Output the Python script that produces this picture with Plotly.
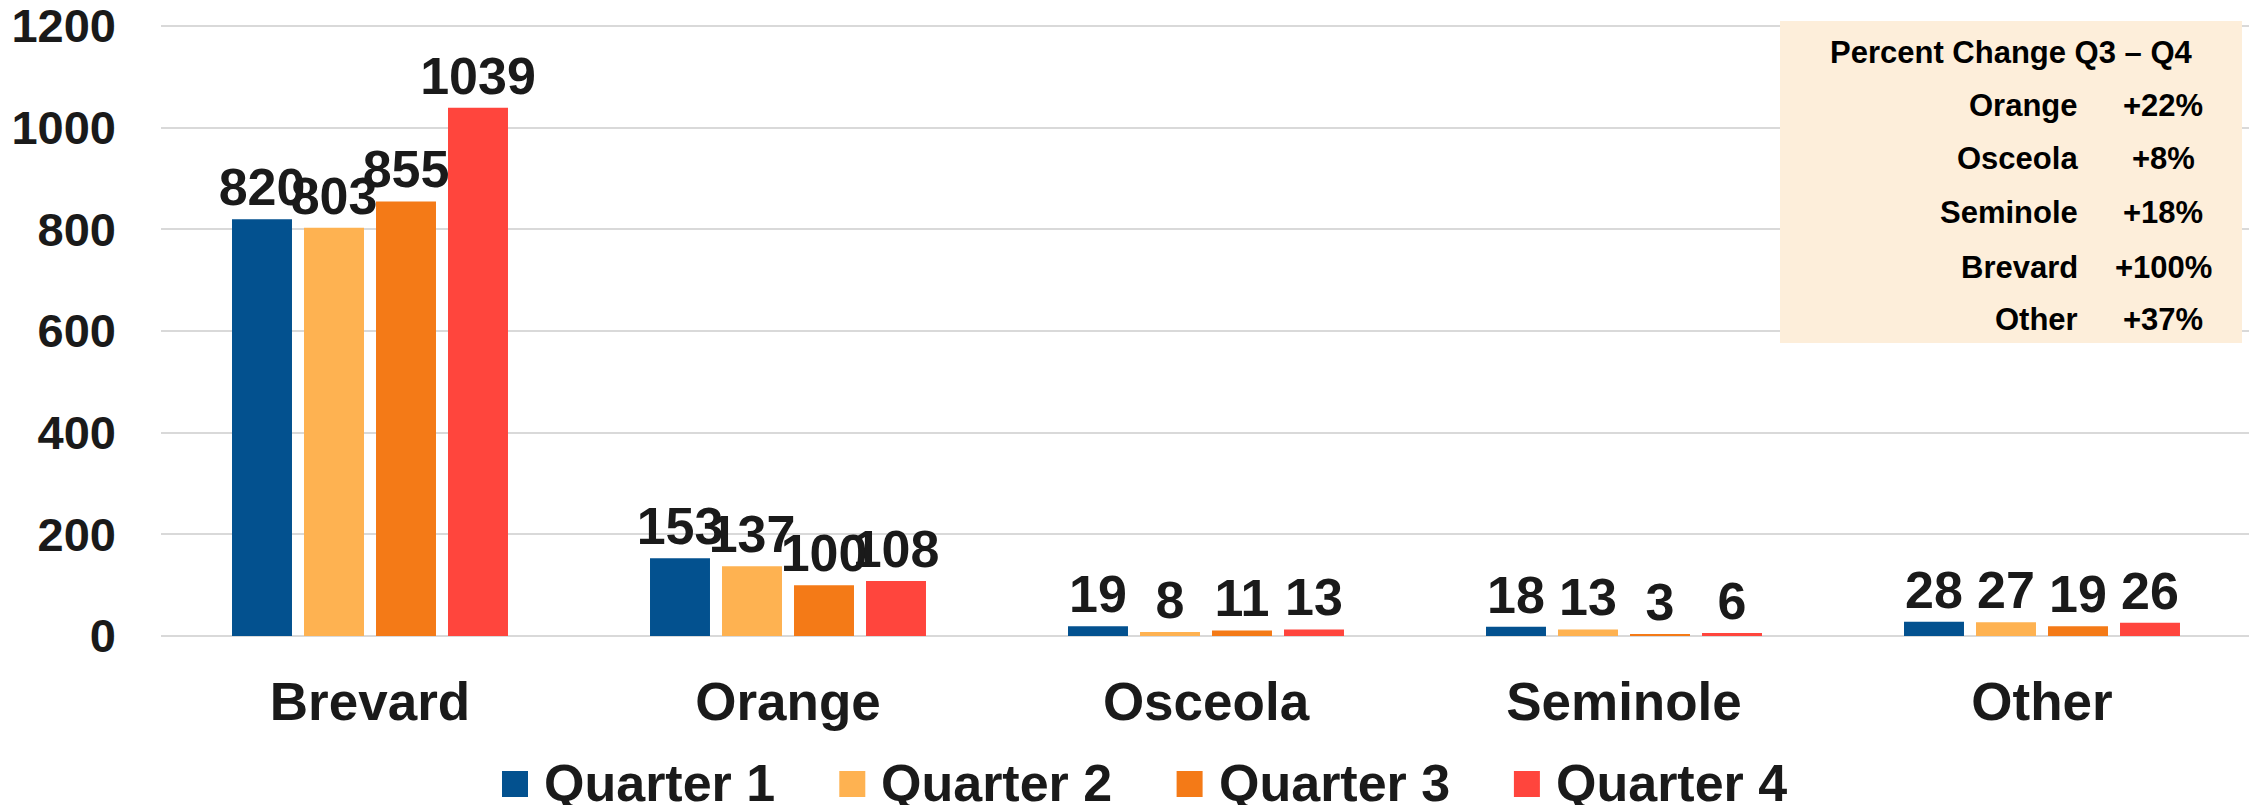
import plotly.graph_objects as go

counties = ["Brevard", "Orange", "Osceola", "Seminole", "Other"]
quarters = ["Quarter 1", "Quarter 2", "Quarter 3", "Quarter 4"]
q1 = [820, 153, 19, 18, 28]
q2 = [803, 137, 8, 13, 27]
q3 = [855, 100, 11, 3, 19]
q4 = [1039, 108, 13, 6, 26]
colors = ["#03518F", "#FEB251", "#F47A17", "#FF453D"]

table_title = "Percent Change Q3 – Q4"
table_counties = ["Orange", "Osceola", "Seminole", "Brevard", "Other"]
table_changes = ["+22%", "+8%", "+18%", "+100%", "+37%"]

FONT = "Liberation Sans, Arial, sans-serif"
TXT = "#1a1a1a"

# the page body has a default 8px margin; compensate so absolute positions match
OFF = 8
W, H = 2257 - OFF, 805 - OFF
PLOT_L, PLOT_R, PLOT_T, PLOT_B = 161, 2251, 25, 636   # absolute page pixels
ML = PLOT_L - OFF
MR = W - (PLOT_R - OFF)
MT = PLOT_T - OFF
MB = H - (PLOT_B - OFF)
PW, PH = PLOT_R - PLOT_L, PLOT_B - PLOT_T

def px_x(x):
    return (x - PLOT_L) / PW

def px_y(y):
    return (PLOT_B - y) / PH

fig = go.Figure()
for name, vals, col in zip(quarters, [q1, q2, q3, q4], colors):
    fig.add_trace(go.Bar(
        x=counties, y=vals, name=name, marker=dict(color=col, line=dict(width=0)),
        text=vals, texttemplate="%{y}", textposition="outside",
        constraintext="none", cliponaxis=False, showlegend=False,
        textfont=dict(family=FONT, size=52, color=TXT, weight="bold"),
    ))

shapes = []
ann = []

# Table box
shapes.append(dict(type="rect", xref="paper", yref="paper",
                   x0=px_x(1780), x1=px_x(2242), y0=px_y(343), y1=px_y(21),
                   fillcolor="#FDEEDA", line=dict(width=0), layer="above"))
ann.append(dict(xref="paper", yref="paper", x=px_x(2011), y=px_y(52),
                text=table_title, showarrow=False, xanchor="center", yanchor="middle",
                font=dict(family=FONT, size=31, color="#000000", weight="bold")))
row_y = [105, 159, 212, 267, 320]
for i, (c, v) in enumerate(zip(table_counties, table_changes)):
    ann.append(dict(xref="paper", yref="paper", x=px_x(2080), y=px_y(row_y[i]),
                    text=c, showarrow=False, xanchor="right", yanchor="middle",
                    font=dict(family=FONT, size=31, color="#000000", weight="bold")))
    ann.append(dict(xref="paper", yref="paper", x=px_x(2163), y=px_y(row_y[i]),
                    text=v, showarrow=False, xanchor="center", yanchor="middle",
                    font=dict(family=FONT, size=31, color="#000000", weight="bold")))

# Legend (drawn manually to get the large swatches)
leg_x0 = 502
leg_step = 337.3
for i, (name, col) in enumerate(zip(quarters, colors)):
    x0 = leg_x0 + i * leg_step
    shapes.append(dict(type="rect", xref="paper", yref="paper",
                       x0=px_x(x0), x1=px_x(x0 + 26), y0=px_y(797), y1=px_y(771),
                       fillcolor=col, line=dict(width=0)))
    ann.append(dict(xref="paper", yref="paper", x=px_x(x0 + 40), y=px_y(783),
                    text=name, showarrow=False, xanchor="left", yanchor="middle",
                    font=dict(family=FONT, size=52, color=TXT, weight="bold")))

fig.update_layout(
    width=W, height=H,
    margin=dict(l=ML, r=MR, t=MT, b=MB, pad=0, autoexpand=False),
    paper_bgcolor="white", plot_bgcolor="white",
    barmode="group", bargap=0.311, bargroupgap=0.167,
    font=dict(family=FONT, color=TXT),
    annotations=ann, shapes=shapes,
    showlegend=False,
    xaxis=dict(showgrid=False, showline=False, ticks="",
               tickfont=dict(family=FONT, size=53, color=TXT, weight="bold"),
               ticklabelstandoff=30),
    yaxis=dict(range=[0, 1202], tickvals=[0, 200, 400, 600, 800, 1000, 1200],
               showgrid=True, gridcolor="#D9D9D9",
               gridwidth=2, zeroline=True, zerolinecolor="#D9D9D9", zerolinewidth=2,
               showline=False, ticks="", ticklabeloverflow="allow",
               tickfont=dict(family=FONT, size=47, color=TXT, weight="bold"),
               ticklabelstandoff=44),
)

fig.write_html("out.html")
